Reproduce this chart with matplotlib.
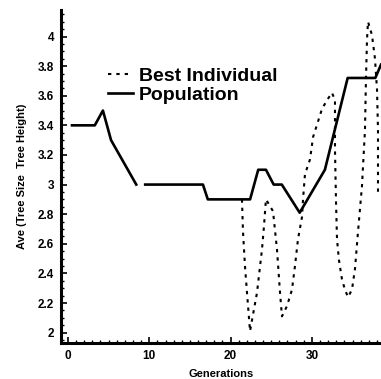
import matplotlib
matplotlib.use('Agg')
import matplotlib.pyplot as plt
from matplotlib.ticker import MultipleLocator

# population average, two pieces (gap between gen 8 and 9)
pop_gen_a = [0.5, 3.3, 4.3, 5.3, 8.4]
pop_ave_a = [3.4, 3.4, 3.5, 3.3, 3.0]
pop_gen_b = [9.5, 16.6, 17.2, 22.4, 23.4, 24.35, 25.3, 26.3, 28.5, 31.6, 34.4, 37.8, 38.5]
pop_ave_b = [3.0, 3.0, 2.9, 2.9, 3.1, 3.1, 3.0, 3.0, 2.81, 3.1, 3.72, 3.72, 3.81]

# best individual
best_gen = [21.4, 21.53, 21.77, 22.02, 22.39, 23.25, 23.86, 24.11, 24.35, 25.22, 25.71,
            26.08, 26.32, 26.94, 27.55, 27.92, 28.29, 28.78, 28.91, 29.15, 29.77, 30.14,
            31.24, 31.86, 32.47, 32.84, 32.84, 32.96, 33.09, 33.33, 33.7, 34.07, 34.44,
            34.93, 35.3, 35.67, 36.16, 36.53, 36.65, 36.78, 36.9, 37.39, 37.76, 38.01,
            38.13, 38.13]
best_ave = [2.9, 2.68, 2.45, 2.27, 2.01, 2.27, 2.56, 2.72, 2.9, 2.82, 2.56,
            2.27, 2.11, 2.18, 2.29, 2.45, 2.63, 2.78, 2.9, 3.07, 3.17, 3.32,
            3.51, 3.57, 3.62, 3.57, 3.24, 2.9, 2.63, 2.49, 2.36, 2.29, 2.24,
            2.29, 2.43, 2.68, 2.99, 3.37, 3.71, 3.98, 4.1, 4.01, 3.85, 3.64,
            3.37, 2.92]

xticks = [0, 10, 20, 30]
yticks = [2, 2.2, 2.4, 2.6, 2.8, 3, 3.2, 3.4, 3.6, 3.8, 4]
ytick_labels = ['2', '2.2', '2.4', '2.6', '2.8', '3', '3.2', '3.4', '3.6', '3.8', '4']

plt.rcParams['font.family'] = ['Liberation Sans', 'DejaVu Sans']
plt.rcParams['font.weight'] = 'bold'

fig = plt.figure(figsize=(3.81, 3.79), dpi=100)
ax = fig.add_axes([0.16, 0.095, 0.84, 0.879])

ax.plot(best_gen, best_ave, color='black', lw=1.5, linestyle=(0, (1.6, 2.4)),
        label='Best Individual')
ax.plot(pop_gen_a, pop_ave_a, color='black', lw=1.9, label='Population')
ax.plot(pop_gen_b, pop_ave_b, color='black', lw=1.9)

ax.set_xlim(-0.86, 38.5)
ax.set_ylim(1.93, 4.18)

ax.set_xticks(xticks)
ax.set_yticks(yticks)
ax.set_yticklabels(ytick_labels)
ax.xaxis.set_minor_locator(MultipleLocator(1))
ax.yaxis.set_minor_locator(MultipleLocator(0.05))
ax.tick_params(axis='both', which='major', direction='in', length=4, width=1.2,
               labelsize=8.5, pad=5)
ax.tick_params(axis='both', which='minor', direction='in', length=2, width=1)

for s in ['top', 'right']:
    ax.spines[s].set_visible(False)
for s in ['left', 'bottom']:
    ax.spines[s].set_linewidth(2.2)

ax.set_xlabel('Generations', fontsize=8, fontweight='bold', labelpad=5)
ax.set_ylabel('Ave (Tree Size  Tree Height)', fontsize=8, fontweight='bold', labelpad=8)

ax.legend(loc='upper left', bbox_to_anchor=(0.283, 0.822), bbox_transform=fig.transFigure,
          frameon=False, handlelength=1.3, handletextpad=0.3,
          labelspacing=0.05, borderpad=0, borderaxespad=0,
          prop={'weight': 'bold', 'size': 14})

fig.savefig('out.png', dpi=100)
